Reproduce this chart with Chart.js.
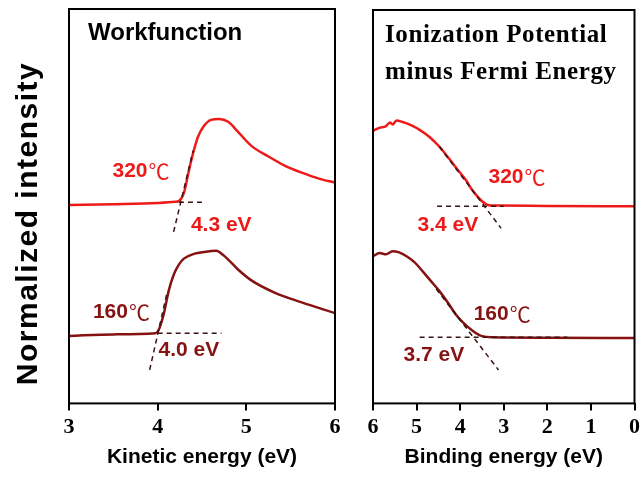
<!DOCTYPE html>
<html>
<head>
<meta charset="utf-8">
<script src="https://cdn.jsdelivr.net/npm/chart.js@4"></script>
<style>
  body { margin: 0; background: #fff; }
  #wrap { position: relative; width: 644px; height: 486px; }
  .panel { position: absolute; top: 0; height: 486px; }
</style>
</head>
<body>
<div id="wrap">
  <div class="panel" style="left:0;width:345px"><canvas id="chart_left"></canvas></div>
  <div class="panel" style="left:345px;width:299px"><canvas id="chart_right"></canvas></div>
</div>
<script>
const RED = "#ee1a1a";
const DARK = "#861212";
const DASH = "#3a1414";

// kinetic energy spectra (workfunction panel)
const keE320 = [3.0, 3.5, 4.0, 4.2, 4.239, 4.295, 4.352, 4.398, 4.455, 4.523, 4.602, 4.693, 4.795, 4.909, 5.057, 5.25, 5.432, 5.625, 5.818, 6.0];
const keI320 = [0.503, 0.505, 0.508, 0.511, 0.513, 0.533, 0.590, 0.633, 0.676, 0.704, 0.719, 0.721, 0.714, 0.688, 0.653, 0.626, 0.603, 0.585, 0.570, 0.560];
const keE160 = [3.0, 3.5, 3.977, 4.011, 4.068, 4.125, 4.182, 4.239, 4.295, 4.409, 4.523, 4.659, 4.75, 4.909, 5.057, 5.318, 5.625, 6.0];
const keI160 = [0.171, 0.175, 0.178, 0.186, 0.226, 0.286, 0.327, 0.352, 0.367, 0.379, 0.384, 0.387, 0.374, 0.339, 0.312, 0.281, 0.256, 0.229];

// binding energy spectra (IP - EF panel)
const beE320 = [6.0, 5.84, 5.71, 5.61, 5.55, 5.46, 5.34, 5.21, 5.07, 4.94, 4.71, 4.48, 4.26, 4.03, 3.87, 3.74, 3.62, 3.51, 3.40, 3.28, 3.12, 2.0, 0.0];
const beI320 = [0.693, 0.701, 0.704, 0.714, 0.709, 0.719, 0.716, 0.711, 0.704, 0.696, 0.678, 0.653, 0.623, 0.590, 0.568, 0.545, 0.528, 0.515, 0.506, 0.503, 0.503, 0.502, 0.501];
const beE160 = [6.0, 5.85, 5.70, 5.55, 5.40, 5.23, 5.05, 4.87, 4.68, 4.48, 4.30, 4.10, 3.92, 3.73, 3.60, 3.50, 3.28, 2.0, 0.0];
const beI160 = [0.374, 0.382, 0.379, 0.387, 0.384, 0.374, 0.359, 0.337, 0.312, 0.286, 0.259, 0.226, 0.204, 0.186, 0.176, 0.171, 0.168, 0.167, 0.166];

// extrapolation lines (baseline + tangent), x then y
const ke320BaseX = [4.24, 4.52], ke320BaseY = [0.510, 0.510];
const ke320TanX = [4.18, 4.40], ke320TanY = [0.435, 0.641];
const ke160BaseX = [4.0, 4.72], ke160BaseY = [0.178, 0.178];
const ke160TanX = [3.91, 4.10], ke160TanY = [0.085, 0.275];
const be320BaseX = [4.53, 3.0], be320BaseY = [0.501, 0.501];
const be320TanX = [4.48, 3.06], be320TanY = [0.653, 0.445];
const be160BaseX = [4.93, 1.54], be160BaseY = [0.168, 0.168];
const be160TanX = [4.55, 3.12], be160TanY = [0.291, 0.085];

const temps = ["320", "160"];
const workfunction = [4.3, 4.0];
const ipMinusEf = [3.4, 3.7];

const pts = (xs, ys) => xs.map((x, i) => ({ x: x, y: ys[i] }));

function curve(xs, ys, color) {
  return {
    data: pts(xs, ys), borderColor: color, borderWidth: 2.5,
    pointRadius: 0, cubicInterpolationMode: "monotone", order: 2,
  };
}
function dashed(xs, ys) {
  return {
    data: pts(xs, ys), borderColor: DASH, borderWidth: 1.5,
    borderDash: [5, 4], pointRadius: 0, order: 1,
  };
}

const sans = '"Liberation Sans", Arial, sans-serif';
const serif = '"Liberation Serif", "Times New Roman", serif';

// text marks placed in data coordinates
function decor(marks, extra) {
  return {
    id: "decor",
    afterDatasetsDraw(chart) {
      const ctx = chart.ctx;
      const a = chart.chartArea;
      const sx = chart.scales.x, sy = chart.scales.y;
      ctx.save();
      ctx.strokeStyle = "#000";
      ctx.lineWidth = 2;
      ctx.strokeRect(a.left, a.top, a.right - a.left, a.bottom - a.top);
      ctx.textBaseline = "middle";
      ctx.textAlign = "left";
      marks.forEach((m) => {
        const px = sx.getPixelForValue(m.x);
        const py = sy.getPixelForValue(m.y);
        ctx.fillStyle = m.color;
        ctx.font = "bold 21px " + sans;
        ctx.fillText(m.text, px, py);
        if (m.unit) {
          const w = ctx.measureText(m.text).width;
          ctx.font = '21px "Noto Sans CJK SC", sans-serif';
          ctx.fillText(m.unit, px + w + 1, py);
        }
      });
      extra(ctx, a);
      ctx.restore();
    },
  };
}

function xAxis(min, max, reverse, title) {
  return {
    type: "linear", min: min, max: max, reverse: reverse,
    ticks: { stepSize: 1, color: "#000", padding: 4, font: { family: serif, weight: "bold", size: 22 } },
    grid: { drawOnChartArea: false, drawTicks: true, tickLength: 7, color: "#000", lineWidth: 2 },
    border: { display: false },
    title: { display: true, text: title, color: "#000", padding: { top: 0, bottom: 0 },
      font: { family: sans, weight: "bold", size: 21 } },
  };
}

function baseOptions(padding, x) {
  return {
    responsive: true, maintainAspectRatio: false, animation: false,
    layout: { padding: padding },
    plugins: { legend: { display: false }, tooltip: { enabled: false } },
    scales: { x: x, y: { display: false, min: 0, max: 1 } },
  };
}

new Chart(document.getElementById("chart_left"), {
  type: "line",
  data: {
    datasets: [
      curve(keE320, keI320, RED),
      curve(keE160, keI160, DARK),
      dashed(ke320BaseX, ke320BaseY), dashed(ke320TanX, ke320TanY),
      dashed(ke160BaseX, ke160BaseY), dashed(ke160TanX, ke160TanY),
    ],
  },
  options: baseOptions({ left: 69, right: 10, top: 9, bottom: 16 }, xAxis(3, 6, false, "Kinetic energy (eV)")),
  plugins: [decor([
    { text: temps[0], unit: "℃", x: 3.49, y: 0.588, color: RED },
    { text: workfunction[0].toFixed(1) + " eV", x: 4.375, y: 0.452, color: RED },
    { text: temps[1], unit: "℃", x: 3.27, y: 0.231, color: DARK },
    { text: workfunction[1].toFixed(1) + " eV", x: 4.01, y: 0.136, color: DARK },
  ], (ctx, a) => {
    ctx.fillStyle = "#000";
    ctx.font = "bold 24px " + sans;
    ctx.fillText("Workfunction", a.left + 19, 33.5);
    ctx.save();
    ctx.translate(37, 223.5);
    ctx.rotate(-Math.PI / 2);
    ctx.textAlign = "center";
    ctx.textBaseline = "alphabetic";
    ctx.font = "bold 30px " + sans;
    ctx.letterSpacing = "1.5px";
    ctx.fillText("Normalized intensity", 0, 0);
    ctx.restore();
  })],
});

new Chart(document.getElementById("chart_right"), {
  type: "line",
  data: {
    datasets: [
      curve(beE320, beI320, RED),
      curve(beE160, beI160, DARK),
      dashed(be320BaseX, be320BaseY), dashed(be320TanX, be320TanY),
      dashed(be160BaseX, be160BaseY), dashed(be160TanX, be160TanY),
    ],
  },
  options: baseOptions({ left: 28, right: 6, top: 10, bottom: 16 }, xAxis(0, 6, true, "Binding energy (eV)")),
  plugins: [decor([
    { text: temps[0], unit: "℃", x: 3.35, y: 0.575, color: RED },
    { text: ipMinusEf[0].toFixed(1) + " eV", x: 4.98, y: 0.452, color: RED },
    { text: temps[1], unit: "℃", x: 3.69, y: 0.226, color: DARK },
    { text: ipMinusEf[1].toFixed(1) + " eV", x: 5.30, y: 0.123, color: DARK },
  ], (ctx, a) => {
    ctx.fillStyle = "#000";
    ctx.font = "bold 25px " + serif;
    ctx.letterSpacing = "0.6px";
    ctx.fillText("Ionization Potential", a.left + 12, 35.5);
    ctx.fillText("minus Fermi Energy", a.left + 12, 72.5);
  })],
});
</script>
</body>
</html>
